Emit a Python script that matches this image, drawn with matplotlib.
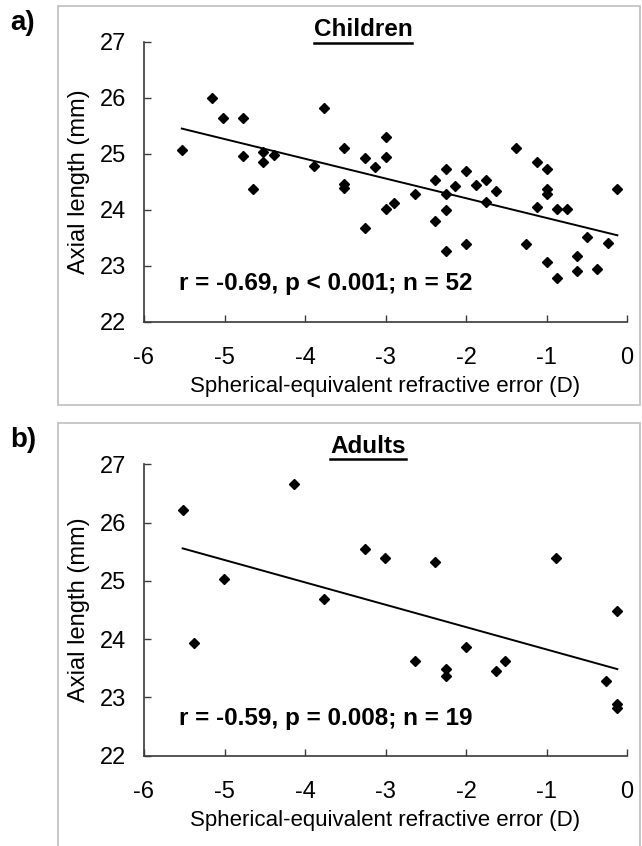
import matplotlib
matplotlib.use('Agg')
import matplotlib.pyplot as plt
import numpy as np
from matplotlib.lines import Line2D
from matplotlib.patches import Rectangle

plt.rcParams['font.family'] = ['Liberation Sans', 'DejaVu Sans']
plt.rcParams['axes.unicode_minus'] = False

# children: spherical-equivalent refractive error (D) vs axial length (mm)
childSE = [-5.53, -5.15, -5.02, -4.77, -4.77, -4.65, -4.52, -4.52, -4.39, -3.89,
           -3.77, -3.51, -3.51, -3.51, -3.26, -3.26, -3.13, -3.00, -3.00, -3.00,
           -2.89, -2.63, -2.38, -2.38, -2.25, -2.25, -2.25, -2.25, -2.14, -2.00,
           -2.00, -1.88, -1.75, -1.75, -1.63, -1.38, -1.26, -1.12, -1.12, -0.99,
           -0.99, -0.99, -0.99, -0.87, -0.87, -0.75, -0.62, -0.62, -0.50, -0.37,
           -0.24, -0.12]
childAL = [25.07, 26.00, 25.65, 25.65, 24.97, 24.37, 25.03, 24.86, 24.99, 24.79,
           25.83, 25.10, 24.46, 24.39, 24.92, 23.68, 24.76, 25.30, 24.95, 24.02,
           24.13, 24.28, 24.54, 23.80, 24.74, 24.28, 24.00, 23.27, 24.43, 24.70,
           23.39, 24.44, 24.54, 24.15, 24.34, 25.11, 23.39, 24.85, 24.06, 24.74,
           24.38, 24.28, 23.07, 24.01, 22.79, 24.02, 23.18, 22.91, 23.51, 22.94,
           23.41, 24.37]

# adults
adultSE = [-5.52, -5.38, -5.01, -4.14, -3.76, -3.26, -3.01, -2.38, -2.63, -2.25,
           -2.25, -2.00, -1.63, -1.51, -0.88, -0.12, -0.26, -0.12, -0.12]
adultAL = [26.21, 23.93, 25.03, 26.66, 24.69, 25.55, 25.39, 25.33, 23.63, 23.49,
           23.36, 23.87, 23.46, 23.63, 25.39, 24.48, 23.29, 22.88, 22.82]

W, H = 642, 846
fig = plt.figure(figsize=(W / 100, H / 100), dpi=100)

def fx(px):
    return px / W

def fy(py):
    return 1 - py / H

# light grey frames round each panel
fig.add_artist(Rectangle((fx(58), fy(405.5)), fx(640) - fx(58), fy(6) - fy(405.5),
                         transform=fig.transFigure, fill=False, edgecolor='#c4c4c4', lw=1.3))
fig.add_artist(Rectangle((fx(58), fy(860)), fx(640) - fx(58), fy(423.5) - fy(860),
                         transform=fig.transFigure, fill=False, edgecolor='#c4c4c4', lw=1.3))

fig.text(fx(23), fy(23), 'a)', fontsize=20, fontweight='bold', ha='center', va='center')
fig.text(fx(23), fy(440), 'b)', fontsize=20, fontweight='bold', ha='center', va='center')

panels = [
    (childSE, childAL, 'Children', 'r = -0.69, p < 0.001; n = 52', (144, 627, 42, 322), 363, 30, 22.57),
    (adultSE, adultAL, 'Adults', 'r = -0.59, p = 0.008; n = 19', (144, 627, 464.3, 755.7), 368, 446, 22.53),
]

titles = []
for se, al, title, stat, box, tx, ty, stat_y in panels:
    l, r, t, b = box
    ax = fig.add_axes([fx(l), fy(b), fx(r) - fx(l), fy(t) - fy(b)])
    ax.plot(se, al, linestyle='none', marker='D', markersize=5.5, color='black')
    slope, icpt = np.polyfit(se, al, 1)
    xl = np.array([min(se), max(se)])
    ax.plot(xl, slope * xl + icpt, color='black', lw=1.4)
    ax.set_xlim(-6, 0)
    ax.set_ylim(22, 27)
    ax.set_xticks(range(-6, 1))
    ax.set_yticks(range(22, 28))
    for s in ['top', 'right']:
        ax.spines[s].set_visible(False)
    for s in ['left', 'bottom']:
        ax.spines[s].set_color('#3a3a3a')
        ax.spines[s].set_linewidth(1.2)
    ax.tick_params(direction='in', length=5, width=1, color='#3a3a3a', labelsize=17)
    ax.tick_params(axis='x', pad=18)
    ax.tick_params(axis='y', pad=13)
    ax.set_xlabel('Spherical-equivalent refractive error (D)', fontsize=16, labelpad=5)
    ax.set_ylabel('Axial length (mm)', fontsize=17, labelpad=7)
    ax.text(-5.56, stat_y, stat, fontsize=17.5, fontweight='bold', va='baseline', ha='left')
    titles.append(fig.text(fx(tx), fy(ty), title, fontsize=17.5, fontweight='bold',
                           ha='center', va='center'))

# underline the titles
fig.canvas.draw()
rend = fig.canvas.get_renderer()
for txt in titles:
    bb = txt.get_window_extent(renderer=rend)
    y0 = bb.y0 - 2
    fig.add_artist(Line2D([bb.x0 / W, bb.x1 / W], [y0 / H, y0 / H],
                          transform=fig.transFigure, color='black', lw=1.8))

fig.savefig('out.png', dpi=100)
